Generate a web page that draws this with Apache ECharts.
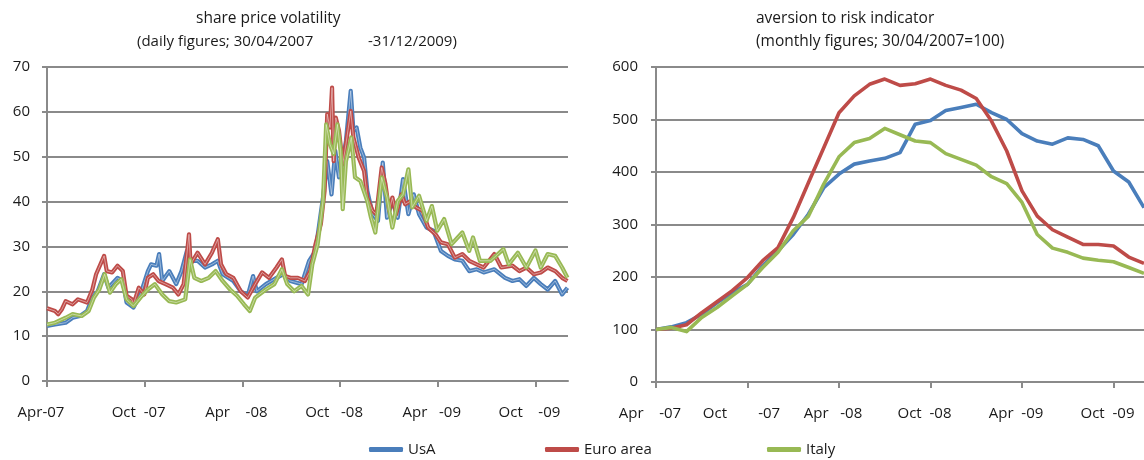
<!DOCTYPE html>
<html>
<head>
<meta charset="utf-8">
<script src="https://cdn.jsdelivr.net/npm/echarts@6/dist/echarts.min.js"></script>
<style>
html,body{margin:0;padding:0;background:#fff;}
#c{width:1144px;height:460px;}
</style>
</head>
<body>
<div id="c"></div>
<script>
// ---------- DATA ----------
// Left chart: share price volatility, [days since 30/04/2007, value]
const totalDays = 976;          // 30/04/2007 -> 31/12/2009
const halfYearDays = 183;       // tick spacing (six months)
const leftTickLabels = ['Apr-07','Oct  -07','Apr    -08','Oct   -08','Apr   -09','Oct    -09'];

const usaDaily = [[0,12.3],[15,12.6],[35,13.0],[48,14.1],[62,14.5],[75,15.6],[85,18.6],[95,20.0],[107,23.8],[115,20.8],[132,23.0],[142,22.3],[149,17.5],[162,16.4],[175,19.3],[189,24.5],[195,26.0],[205,25.7],[210,28.3],[216,22.3],[229,24.5],[242,21.6],[252,24.5],[262,29.0],[269,26.8],[282,26.8],[296,25.3],[309,26.0],[320,26.8],[329,23.8],[349,22.3],[363,20.0],[376,19.0],[386,23.4],[393,20.0],[410,21.6],[430,23.0],[443,23.8],[456,22.3],[477,21.6],[491,26.8],[503,29.0],[517,40.9],[525,49.0],[533,41.6],[540,51.3],[547,45.4],[554,49.0],[560,53.5],[569,64.7],[574,55.8],[580,56.5],[587,52.0],[594,49.8],[600,42.4],[610,37.2],[620,35.7],[629,48.7],[637,36.4],[647,40.1],[657,36.4],[667,45.0],[677,37.2],[687,41.6],[697,37.2],[711,34.2],[724,33.5],[738,29.0],[751,27.9],[764,27.1],[778,26.8],[791,24.5],[805,24.9],[818,24.2],[838,24.9],[858,23.0],[872,22.3],[885,22.7],[898,21.2],[912,23.0],[925,21.6],[938,20.4],[952,22.3],[965,19.3],[975,20.8]];

const euroDaily = [[0,16.2],[1,15.8],[15,15.6],[21,14.9],[28,16.0],[35,17.8],[48,17.1],[58,18.2],[75,17.5],[85,20.4],[92,23.8],[107,27.9],[112,24.5],[122,24.2],[132,25.7],[142,24.5],[149,19.0],[159,18.2],[162,17.1],[172,20.8],[182,19.3],[189,23.0],[199,23.8],[209,22.3],[222,21.6],[236,20.8],[246,19.3],[256,21.6],[266,32.7],[269,26.0],[282,28.6],[296,26.0],[309,28.6],[320,31.6],[326,26.0],[336,23.8],[349,23.0],[363,20.0],[376,18.6],[390,21.6],[403,24.2],[416,23.0],[430,25.3],[440,27.1],[446,23.4],[456,23.0],[470,23.0],[483,22.3],[493,24.5],[503,30.5],[513,35.0],[520,42.4],[525,59.5],[530,56.5],[534,65.4],[537,49.0],[541,58.7],[547,55.8],[554,48.3],[560,52.8],[569,60.2],[574,54.3],[584,49.8],[594,46.8],[600,40.9],[610,37.9],[617,37.2],[627,47.6],[634,43.9],[641,37.9],[647,40.9],[654,37.2],[664,41.6],[671,39.4],[681,40.1],[691,38.7],[704,37.9],[714,34.2],[728,32.7],[738,30.9],[751,30.5],[764,27.5],[778,28.3],[791,26.8],[805,26.0],[818,25.3],[838,28.3],[851,25.3],[872,25.7],[885,24.5],[898,25.3],[912,23.8],[925,24.2],[938,25.3],[952,24.5],[965,23.0],[975,22.3]];

const italyDaily = [[0,12.6],[15,13.0],[35,14.1],[48,14.9],[65,14.5],[78,15.6],[88,18.6],[98,20.4],[108,23.8],[118,19.7],[129,21.6],[139,22.7],[149,18.2],[162,16.7],[175,18.6],[189,20.4],[202,21.6],[216,19.3],[229,17.8],[242,17.5],[259,18.2],[268,27.1],[276,23.0],[289,22.3],[303,23.0],[316,24.5],[329,22.3],[343,20.4],[356,19.0],[369,17.1],[380,15.6],[390,18.6],[410,20.4],[426,21.6],[440,24.9],[450,21.6],[463,20.0],[477,21.2],[489,19.3],[497,26.0],[507,30.5],[517,40.1],[523,57.2],[530,52.8],[537,50.6],[544,57.2],[550,51.3],[554,38.3],[560,49.0],[570,54.3],[577,45.4],[587,44.6],[600,40.1],[607,36.4],[615,33.1],[627,45.4],[637,40.9],[647,34.2],[657,40.1],[667,41.6],[677,47.2],[684,38.7],[697,41.3],[711,35.7],[721,39.0],[731,33.5],[744,36.1],[758,30.5],[778,33.1],[791,29.0],[798,32.0],[811,26.8],[831,26.8],[855,29.4],[865,26.0],[882,28.6],[898,25.3],[915,29.1],[925,25.3],[938,28.3],[952,27.9],[965,25.3],[975,23.0]];

// Right chart: aversion to risk indicator (monthly, 30/04/2007=100)
const months = ['Apr-07','May-07','Jun-07','Jul-07','Aug-07','Sep-07','Oct-07','Nov-07','Dec-07','Jan-08','Feb-08','Mar-08','Apr-08','May-08','Jun-08','Jul-08','Aug-08','Sep-08','Oct-08','Nov-08','Dec-08','Jan-09','Feb-09','Mar-09','Apr-09','May-09','Jun-09','Jul-09','Aug-09','Sep-09','Oct-09','Nov-09','Dec-09'];
const rightTickLabels = ['Apr    -07','Oct        -07','Apr   -08','Oct  -08','Apr  -09','Oct  -09'];
const usaRisk = [100,105,113,129,151,170,186,221,250,281,320,370,396,415,421,426,437,491,498,517,523,529,513,500,473,459,453,465,462,450,402,381,332];
const euroRisk = [100,102.5,109,132,153,174,199,231,256,313,380,446,513,545,567,577,565,568,577,565,556,540,497,440,364,316,290,276,262,262,259,238,226];
const italyRisk = [100,104,96,123,142,164,186,218,247,288,316,377,429,456,464,483,471,459,456,435,424,413,391,378,342,281,255,247,236,232,229,218,207];

const seriesNames = ['UsA','Euro area','Italy'];
// ---------- END DATA ----------

const colors = ['#4A7EBB','#BE4B48','#98B954'];
const FONT = '"Open Sans", "Noto Sans", sans-serif';
const gridColor = '#8a8a8a';

const chart = echarts.init(document.getElementById('c'));

const txt = {color:'#1a1a1a', fontFamily: FONT, fontSize: 15};

function titleItem(text, left, top, size) {
  return {text, left, top, padding: 0, textStyle: {color:'#1a1a1a', fontFamily: FONT, fontSize: size || 15.5, fontWeight:'normal'}};
}

function legendItem(name, left) {
  return {data:[name], left, top: 437, icon:'roundRect', itemWidth:34, itemHeight:5, itemGap: 0,
    textStyle:{color:'#1a1a1a', fontFamily: FONT, fontSize: 15}};
}

const leftSeries = [];
[usaDaily, euroDaily, italyDaily].forEach((d, i) => {
  leftSeries.push({
    name: seriesNames[i], type:'line', xAxisIndex:0, yAxisIndex:0,
    data: d, showSymbol:false, symbol:'none',
    lineStyle:{color: colors[i], width: 4.2, join:'round'}, itemStyle:{color: colors[i]},
    z: 2 + 2 * i, animation:false
  });
  // light inner stroke giving the hollow (outlined) look of the original lines
  leftSeries.push({
    type:'line', xAxisIndex:0, yAxisIndex:0, silent:true,
    data: d, showSymbol:false, symbol:'none',
    lineStyle:{color:'#ffffff', width: 1, opacity: 0.45, join:'round'},
    z: 3 + 2 * i, animation:false, tooltip:{show:false}
  });
});

const rightSeries = [usaRisk, euroRisk, italyRisk].map((d, i) => ({
  name: seriesNames[i], type:'line', xAxisIndex:1, yAxisIndex:1,
  data: d, showSymbol:false, symbol:'none',
  lineStyle:{color: colors[i], width: 3.6, join:'round'}, itemStyle:{color: colors[i]},
  z: 2 + i, animation:false
}));

const option = {
  backgroundColor:'#fff',
  animation:false,
  color: colors,
  title: [
    titleItem('share price volatility', 196, 11),
    titleItem('(daily figures; 30/04/2007', 137, 34, 15),
    titleItem('-31/12/2009)', 368, 34, 15),
    titleItem('aversion to risk indicator', 756, 11),
    titleItem('(monthly figures; 30/04/2007=100)', 756, 34)
  ],
  legend: [
    legendItem('UsA', 364),
    legendItem('Euro area', 540),
    legendItem('Italy', 762)
  ],
  grid: [
    {left:47, top:67, width:521, height:314},
    {left:656, top:67, width:488, height:315}
  ],
  xAxis: [
    {
      type:'value', gridIndex:0, min: 0, max: totalDays, interval: halfYearDays,
      axisLine:{show:true, onZero:false, lineStyle:{color:gridColor, width:2}},
      axisTick:{show:true, length:6, lineStyle:{color:gridColor, width:2}},
      axisLabel:{...txt, margin:24, padding:[0,12,0,0], showMaxLabel:false,
        formatter: v => { const i = Math.round(v / halfYearDays); return (v % halfYearDays === 0 && i < leftTickLabels.length) ? leftTickLabels[i] : ''; }},
      splitLine:{show:false}
    },
    {
      type:'category', gridIndex:1, data: months, boundaryGap:false,
      axisLine:{show:true, lineStyle:{color:gridColor, width:2}},
      axisTick:{show:true, length:6, interval:5, lineStyle:{color:gridColor, width:2}},
      axisLabel:{...txt, margin:24, interval:5, padding:[0,12,0,0],
        formatter: (v, idx) => idx % 6 === 0 ? rightTickLabels[idx / 6] : ''},
      splitLine:{show:false}
    }
  ],
  yAxis: [
    {
      type:'value', gridIndex:0, min:0, max:70, interval:10,
      axisLine:{show:true, lineStyle:{color:gridColor, width:2}},
      axisTick:{show:true, length:5, lineStyle:{color:gridColor, width:2}},
      axisLabel:{...txt, margin:17},
      splitLine:{show:true, lineStyle:{color:gridColor, width:2}}
    },
    {
      type:'value', gridIndex:1, min:0, max:600, interval:100,
      axisLine:{show:true, lineStyle:{color:gridColor, width:2}},
      axisTick:{show:true, length:5, lineStyle:{color:gridColor, width:2}},
      axisLabel:{...txt, margin:18},
      splitLine:{show:true, lineStyle:{color:gridColor, width:2}}
    }
  ],
  series: leftSeries.concat(rightSeries)
};
chart.setOption(option);
</script>
</body>
</html>
